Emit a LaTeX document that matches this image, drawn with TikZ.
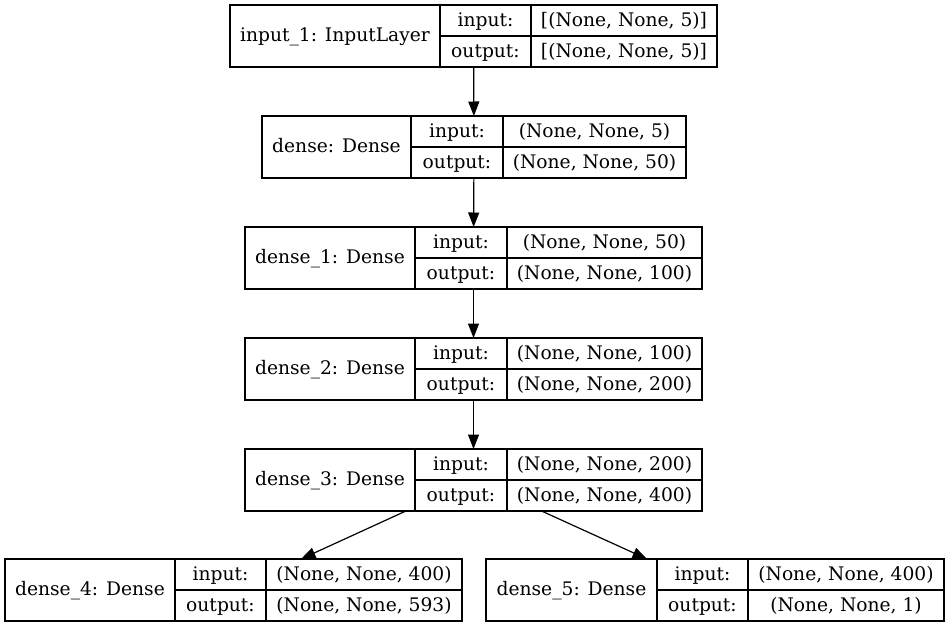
\documentclass[tikz,border=0pt]{standalone}
\usepackage{fontspec}
\setmainfont{DejaVu Serif}
\usepackage{tikz}
\usetikzlibrary{arrows.meta}

\tikzset{
  layerbox/.style={draw, line width=1.2pt, inner sep=0pt, outer sep=0pt},
  cellline/.style={line width=1.2pt},
  lbl/.style={anchor=base, inner sep=0pt, font=\fontsize{18.67}{22}\selectfont},
  flow/.style={line width=1.2pt, -{Triangle[length=14.5pt,width=11pt]}}
}

% name, x0, x1, x2, x3, top, title, input shape, output shape
\newcommand{\layer}[9]{%
  \node[layerbox, minimum width={#5-#2}, minimum height=62] (#1) at ({(#2+#5)/2},{#6+31}) {};
  \draw[cellline] ({#3},{#6}) -- ({#3},{#6+62});
  \draw[cellline] ({#4},{#6}) -- ({#4},{#6+62});
  \draw[cellline] ({#3},{#6+31}) -- ({#5},{#6+31});
  \node[lbl] (#1-name) at ({(#2+#3)/2},{#6+36.5}) {#7};
  \node[lbl] (#1-inl) at ({(#3+#4)/2},{#6+21}) {input:};
  \node[lbl] (#1-outl) at ({(#3+#4)/2},{#6+52}) {output:};
  \node[lbl] (#1-in) at ({(#4+#5)/2},{#6+21}) {#8};
  \node[lbl] (#1-out) at ({(#4+#5)/2},{#6+52}) {#9};
}

\begin{document}
\begin{tikzpicture}[x=1pt, y=-1pt]
    \useasboundingbox (0,0) rectangle (949,627);

    \layer{inp}{230}{440}{531}{717}{5}{input\_1: InputLayer}{[(None, None, 5)]}{[(None, None, 5)]}
    \layer{d0}{262}{411}{503}{686}{116}{dense: Dense}{(None, None, 5)}{(None, None, 50)}
    \layer{d1}{245}{415}{507}{702}{227}{dense\_1: Dense}{(None, None, 50)}{(None, None, 100)}
    \layer{d2}{245}{415}{507}{702}{338}{dense\_2: Dense}{(None, None, 100)}{(None, None, 200)}
    \layer{d3}{245}{415}{507}{702}{449}{dense\_3: Dense}{(None, None, 200)}{(None, None, 400)}
    \layer{d4}{5}{175}{266}{462}{559}{dense\_4: Dense}{(None, None, 400)}{(None, None, 593)}
    \layer{d5}{486}{657}{748}{944}{559}{dense\_5: Dense}{(None, None, 400)}{(None, None, 1)}

    \draw[flow] (inp) to (d0);
    \draw[flow] (d0) to (d1);
    \draw[flow] (d1) to (d2);
    \draw[flow] (d2) to (d3);
    \draw[flow] (d3) to (d4);
    \draw[flow] (d3) to (d5);
\end{tikzpicture}
\end{document}
